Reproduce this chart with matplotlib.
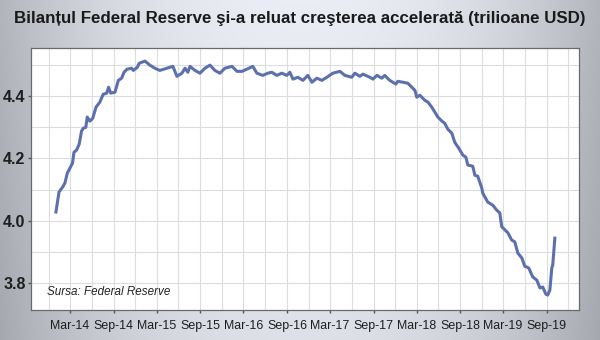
import numpy as np
import pandas as pd
import matplotlib
matplotlib.use("Agg")
import matplotlib.pyplot as plt
import matplotlib.dates as mdates
from matplotlib.ticker import MultipleLocator

# Fed balance sheet, trillion USD
dates = [
    "2014-01-01", "2014-01-14", "2014-01-29", "2014-02-08", "2014-02-18", "2014-03-01",
    "2014-03-12", "2014-03-18", "2014-03-29", "2014-04-09", "2014-04-19", "2014-04-26",
    "2014-05-07", "2014-05-13", "2014-05-24", "2014-06-05", "2014-06-19", "2014-07-05",
    "2014-07-19", "2014-08-03", "2014-08-11", "2014-08-20", "2014-09-07", "2014-09-21",
    "2014-10-05", "2014-10-15", "2014-10-28", "2014-11-16", "2014-11-23", "2014-12-10",
    "2014-12-18", "2015-01-11", "2015-02-01", "2015-02-22", "2015-03-15", "2015-04-14",
    "2015-05-09", "2015-05-26", "2015-06-16", "2015-06-29", "2015-07-11", "2015-07-20",
    "2015-08-10", "2015-08-31", "2015-09-21", "2015-10-12", "2015-11-02", "2015-11-23",
    "2015-12-14", "2016-01-13", "2016-02-03", "2016-02-24", "2016-03-16", "2016-04-10",
    "2016-04-27", "2016-05-22", "2016-06-12", "2016-06-29", "2016-07-20", "2016-08-10",
    "2016-08-31", "2016-09-13", "2016-09-26", "2016-10-17", "2016-11-07", "2016-11-28",
    "2016-12-15", "2017-01-05", "2017-01-26", "2017-02-16", "2017-03-13", "2017-04-12",
    "2017-05-03", "2017-06-01", "2017-06-14", "2017-07-05", "2017-07-18", "2017-08-16",
    "2017-08-29", "2017-09-15", "2017-10-06", "2017-10-18", "2017-11-08", "2017-12-04",
    "2017-12-12", "2018-01-02", "2018-01-23", "2018-02-09", "2018-02-22", "2018-03-02",
    "2018-03-15", "2018-04-05", "2018-04-18", "2018-05-04", "2018-05-17", "2018-05-30",
    "2018-06-16", "2018-06-28", "2018-07-11", "2018-07-28", "2018-08-09", "2018-08-26",
    "2018-09-12", "2018-09-25", "2018-10-03", "2018-10-24", "2018-11-02", "2018-11-14",
    "2018-12-01", "2018-12-05", "2018-12-26", "2019-01-16", "2019-02-02", "2019-02-15",
    "2019-02-23", "2019-03-08", "2019-03-21", "2019-04-06", "2019-04-19", "2019-05-02",
    "2019-05-19", "2019-05-31", "2019-06-17", "2019-07-04", "2019-07-21", "2019-08-03",
    "2019-08-15", "2019-08-28", "2019-09-05", "2019-09-14", "2019-09-22", "2019-09-26",
    "2019-10-05",
]
values = [
    4.028, 4.092, 4.108, 4.121, 4.153, 4.169,
    4.185, 4.220, 4.227, 4.246, 4.288, 4.297,
    4.300, 4.333, 4.320, 4.329, 4.365, 4.381,
    4.406, 4.410, 4.429, 4.410, 4.413, 4.451,
    4.458, 4.477, 4.487, 4.490, 4.483, 4.493,
    4.506, 4.513, 4.500, 4.490, 4.483, 4.490,
    4.496, 4.464, 4.474, 4.490, 4.477, 4.496,
    4.483, 4.474, 4.490, 4.500, 4.483, 4.474,
    4.490, 4.496, 4.480, 4.480, 4.487, 4.496,
    4.474, 4.467, 4.474, 4.477, 4.467, 4.474,
    4.467, 4.477, 4.455, 4.461, 4.451, 4.467,
    4.445, 4.458, 4.451, 4.461, 4.474, 4.480,
    4.467, 4.461, 4.474, 4.464, 4.471, 4.461,
    4.455, 4.467, 4.458, 4.467, 4.451, 4.439,
    4.448, 4.445, 4.442, 4.429, 4.419, 4.397,
    4.403, 4.387, 4.381, 4.365, 4.349, 4.333,
    4.320, 4.313, 4.294, 4.281, 4.252, 4.233,
    4.211, 4.204, 4.179, 4.175, 4.146, 4.143,
    4.105, 4.089, 4.060, 4.050, 4.034, 4.025,
    3.981, 3.971, 3.961, 3.938, 3.932, 3.896,
    3.880, 3.854, 3.848, 3.819, 3.809, 3.784,
    3.787, 3.764, 3.761, 3.777, 3.848, 3.857,
    3.944,
]

title = "Bilanțul Federal Reserve şi-a reluat creşterea accelerată (trilioane USD)"
source = "Sursa: Federal Reserve"
yticks = [3.8, 4.0, 4.2, 4.4]

x = pd.to_datetime(dates)

plt.rcParams['font.family'] = ['Liberation Sans', 'DejaVu Sans']

fig = plt.figure(figsize=(6, 3.4), dpi=100)

# grey gradient background
bg = fig.add_axes([0, 0, 1, 1], zorder=-10)
gx = np.linspace(-1, 1, 300)
gy = np.linspace(0, 1, 170)
GX, GY = np.meshgrid(gx, gy)
shade = 0.93 - 0.22 * np.abs(GX) ** 2.2 - 0.05 * GY
img = np.dstack([shade - 0.01, shade, shade + 0.03])
bg.imshow(np.clip(img, 0, 1), aspect='auto', extent=[0, 1, 0, 1], origin='upper')
bg.axis('off')

ax = fig.add_axes([0.0517, 0.0882, 0.913, 0.7706])
ax.set_facecolor('white')
ax.plot(x, values, color='#5b70ad', linewidth=2.2, zorder=3)

ax.set_xlim(pd.Timestamp('2013-09-18'), pd.Timestamp('2020-01-14'))
ax.set_ylim(3.713, 4.555)

ax.xaxis.set_major_locator(mdates.MonthLocator(bymonth=[3, 9]))
ax.xaxis.set_major_formatter(mdates.DateFormatter('%b-%y'))
ax.xaxis.set_minor_locator(mdates.MonthLocator(bymonth=[3, 6, 9, 12]))
ax.set_yticks(yticks)
ax.set_yticklabels([f"{v:.1f}" for v in yticks])
ax.yaxis.set_minor_locator(MultipleLocator(0.1))

ax.grid(which='minor', color='#dcdde2', linewidth=0.8)
ax.grid(which='major', color='#dcdde2', linewidth=0.8)
ax.set_axisbelow(True)

ax.tick_params(axis='x', which='major', length=2, width=1, color='#555555',
               labelsize=8.9, labelcolor='#1e1e1e', pad=5)
ax.tick_params(axis='x', which='minor', length=0)
ax.tick_params(axis='y', which='major', length=2, width=1, color='#555555',
               labelsize=11.5, labelcolor='#1e1e1e', pad=2)
ax.tick_params(axis='y', which='minor', length=0)
for lab in ax.get_yticklabels():
    lab.set_fontweight('bold')

for s in ax.spines.values():
    s.set_color('#6a6a6a')
    s.set_linewidth(0.9)

ax.text(0.029, 0.045, source, transform=ax.transAxes, fontsize=8.4,
        style='italic', color='#222222', va='bottom', ha='left')

fig.text(0.5, 0.947, title, ha='center', va='center', fontsize=12.2,
         fontweight='bold', color='#1a1a1a')

fig.savefig('out.png', dpi=100)
